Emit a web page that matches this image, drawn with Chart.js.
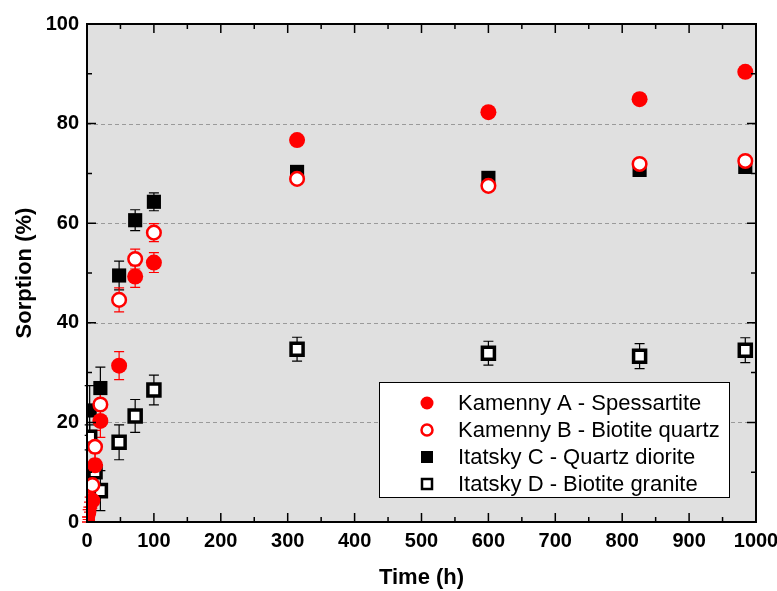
<!DOCTYPE html>
<html><head><meta charset="utf-8">
<script src="https://cdn.jsdelivr.net/npm/chart.js@4"></script>
<style>html,body{margin:0;padding:0;background:#fff}#wrap{width:777px;height:591px}</style>
</head><body><div id="wrap"><canvas id="c" width="777" height="591"></canvas></div>
<script>
// ---- data ----
const seriesNames = ["Kamenny A - Spessartite", "Kamenny B - Biotite quartz", "Itatsky C - Quartz diorite", "Itatsky D - Biotite granite"];

const timeA = [0, 1, 3, 8, 12, 20, 48, 72, 100, 314, 600, 826, 984];
const sorptionA = [0.5, 1.5, 3, 4.3, 11.4, 20.3, 31.4, 49.3, 52.1, 76.7, 82.3, 84.9, 90.4];
const errorA = [0.5, 1, 1, 1.5, 2.5, 3.3, 2.8, 2.2, 2, 1, 1, 1, 1];

const timeB = [0, 2, 4, 8, 12, 20, 48, 72, 100, 314, 600, 826, 984];
const sorptionB = [0.5, 2, 4, 7.4, 15.1, 23.6, 44.6, 52.8, 58.1, 68.9, 67.5, 71.9, 72.5];
const errorB = [0.5, 1, 1, 1.5, 3.3, 3, 2.4, 2, 1.8, 1, 1, 1, 1];

const timeC = [4, 20, 48, 72, 100, 314, 600, 826, 984];
const sorptionC = [22.4, 26.9, 49.5, 60.6, 64.3, 70.3, 69.1, 70.7, 71.3];
const errorC = [5, 4.2, 2.9, 2.1, 1.8, 1, 1, 1, 1];

const timeD = [4, 12, 20, 48, 72, 100, 314, 600, 826, 984];
const sorptionD = [17, 10.1, 6.3, 16.0, 21.3, 26.5, 34.7, 33.9, 33.3, 34.5];
const errorD = [2.5, 2.5, 4, 3.5, 3.3, 3, 2.4, 2.4, 2.5, 2.5];

const xTicks = [0, 100, 200, 300, 400, 500, 600, 700, 800, 900, 1000];
const yTicks = [0, 20, 40, 60, 80, 100];
const xTitle = "Time (h)";
const yTitle = "Sorption (%)";

const pts = (t, v) => t.map((x, i) => ({x: x, y: v[i]}));

const FONT = "'Liberation Sans', Arial, sans-serif";

// ---- plugins ----
const bgGridErr = {
  id: 'bgGridErr',
  beforeDatasetsDraw(chart) {
    const {ctx, chartArea: a, scales: {x, y}} = chart;
    ctx.save();
    ctx.fillStyle = '#e0e0e0';
    ctx.fillRect(a.left, a.top, a.right - a.left, a.bottom - a.top);
    ctx.strokeStyle = '#9a9a9a';
    ctx.lineWidth = 1;
    ctx.setLineDash([4, 3]);
    yTicks.forEach(v => {
      if (v === 0 || v === 100) return;
      const py = Math.round(y.getPixelForValue(v)) + 0.5;
      ctx.beginPath(); ctx.moveTo(a.left, py); ctx.lineTo(a.right, py); ctx.stroke();
    });
    ctx.setLineDash([]);
    for (let d = chart.data.datasets.length - 1; d >= 0; d--) {
      const ds = chart.data.datasets[d];
      ctx.strokeStyle = ds.errColor;
      ctx.lineWidth = 1.2;
      ds.data.forEach((p, i) => {
        const e = ds.errors[i];
        const px = x.getPixelForValue(p.x);
        const y1 = y.getPixelForValue(p.y + e), y2 = y.getPixelForValue(p.y - e);
        ctx.beginPath();
        ctx.moveTo(px, y1); ctx.lineTo(px, y2);
        ctx.moveTo(px - 5, y1); ctx.lineTo(px + 5, y1);
        ctx.moveTo(px - 5, y2); ctx.lineTo(px + 5, y2);
        ctx.stroke();
      });
    }
    ctx.restore();
  },
  afterDatasetsDraw(chart) {
    const {ctx, chartArea: a, scales: {x, y}} = chart;
    ctx.save();
    ctx.strokeStyle = '#000';
    ctx.lineWidth = 1.5;
    for (let v = 0; v <= 1000; v += 50) {
      const px = x.getPixelForValue(v);
      const len = (v % 100 === 0) ? 9 : 5;
      ctx.beginPath();
      ctx.moveTo(px, a.bottom); ctx.lineTo(px, a.bottom - len);
      ctx.moveTo(px, a.top); ctx.lineTo(px, a.top + len);
      ctx.stroke();
    }
    for (let v = 0; v <= 100; v += 10) {
      const py = y.getPixelForValue(v);
      const len = (v % 20 === 0) ? 9 : 5;
      ctx.beginPath();
      ctx.moveTo(a.left, py); ctx.lineTo(a.left + len, py);
      ctx.moveTo(a.right, py); ctx.lineTo(a.right - len, py);
      ctx.stroke();
    }
    ctx.lineWidth = 2;
    ctx.strokeRect(a.left, a.top, a.right - a.left, a.bottom - a.top);
    ctx.restore();
  },
  afterDraw(chart) {
    const ctx = chart.ctx;
    ctx.save();
    const bx = 379, by = 382, bw = 350, bh = 115;
    ctx.fillStyle = '#fff';
    ctx.fillRect(bx, by, bw, bh);
    ctx.strokeStyle = '#000';
    ctx.lineWidth = 1;
    ctx.strokeRect(bx + 0.5, by + 0.5, bw, bh);
    const mx = 427, tx = 458;
    chart.data.datasets.forEach((ds, i) => {
      const cy = 403 + i * 27;
      ctx.beginPath();
      if (ds.pointStyle === 'circle') {
        ctx.arc(mx, cy, ds.open ? 5.5 : 6.5, 0, Math.PI * 2);
      } else {
        const s = ds.open ? 5 : 6;
        ctx.rect(mx - s, cy - s, 2 * s, 2 * s);
      }
      if (ds.open) {
        ctx.fillStyle = '#fff'; ctx.fill();
        ctx.lineWidth = 2.5; ctx.strokeStyle = ds.pointBorderColor; ctx.stroke();
      } else {
        ctx.fillStyle = ds.pointBackgroundColor; ctx.fill();
      }
      ctx.fillStyle = '#000';
      ctx.font = '22px ' + FONT;
      ctx.textAlign = 'left';
      ctx.textBaseline = 'middle';
      ctx.fillText(ds.label, tx, cy + 1);
    });
    ctx.restore();
  }
};

const mk = (label, t, v, e, style, open, color, radius) => ({
  label: label,
  data: pts(t, v),
  errors: e,
  errColor: color,
  open: open,
  showLine: false,
  pointStyle: style,
  pointRadius: radius,
  pointHoverRadius: radius,
  pointBackgroundColor: open ? '#fff' : color,
  pointBorderColor: color,
  pointBorderWidth: open ? (style === 'rect' ? 3.5 : 2.5) : 0.01,
  backgroundColor: color,
  borderColor: color
});

new Chart(document.getElementById('c'), {
  type: 'scatter',
  data: {
    datasets: [
      mk(seriesNames[0], timeA, sorptionA, errorA, 'circle', false, '#ff0000', 8),
      mk(seriesNames[1], timeB, sorptionB, errorB, 'circle', true, '#ff0000', 6.8),
      mk(seriesNames[2], timeC, sorptionC, errorC, 'rect', false, '#000000', 10),
      mk(seriesNames[3], timeD, sorptionD, errorD, 'rect', true, '#000000', 8.5)
    ]
  },
  options: {
    responsive: false,
    animation: false,
    devicePixelRatio: 1,
    layout: {padding: {left: 0, right: 21, top: 24, bottom: 0}},
    plugins: {legend: {display: false}, tooltip: {enabled: false}},
    scales: {
      x: {
        type: 'linear', min: 0, max: 1000,
        afterFit(s) { s.height = 69; s.paddingLeft = 0; s.paddingRight = 0; },
        afterBuildTicks(s) { s.ticks = xTicks.map(v => ({value: v})); },
        grid: {display: false, drawTicks: false},
        border: {display: false},
        ticks: {color: '#000', padding: 7, font: {family: FONT, size: 20, weight: 'bold'},
                callback: v => String(v)},
        title: {display: true, text: xTitle, color: '#000', padding: {top: 0, bottom: 0},
                font: {family: FONT, size: 22, weight: 'bold'}}
      },
      y: {
        type: 'linear', min: 0, max: 100,
        afterFit(s) { s.width = 87; s.paddingTop = 0; s.paddingBottom = 0; },
        afterBuildTicks(s) { s.ticks = yTicks.map(v => ({value: v})); },
        grid: {display: false, drawTicks: false},
        border: {display: false},
        ticks: {color: '#000', padding: 8, font: {family: FONT, size: 20, weight: 'bold'},
                callback: v => String(v)},
        title: {display: true, text: yTitle, color: '#000', padding: {top: 12, bottom: 0},
                font: {family: FONT, size: 22, weight: 'bold'}}
      }
    }
  },
  plugins: [bgGridErr]
});
</script>
</body></html>
